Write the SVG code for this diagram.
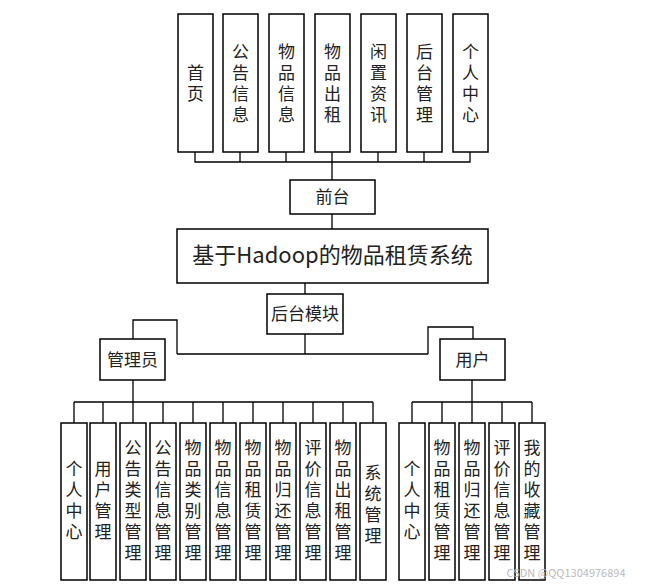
<svg xmlns="http://www.w3.org/2000/svg" width="650" height="586" viewBox="0 0 650 586">
<style>
rect{fill:#fff;stroke:#000;stroke-width:1.5}
text{font-family:"Noto Sans CJK SC","Liberation Sans",sans-serif;font-size:17px;fill:#222;text-anchor:middle}
.v{writing-mode:vertical-rl;letter-spacing:4px}
.c path{fill:none;stroke:#000;stroke-width:1.3}
.t{font-size:22px}
.w{font-size:11px;fill:#bbb}
</style>
<rect x="0" y="0" width="650" height="586" style="stroke:none"/>
<g class="c">
<path d="M195 152V162H470V152M240 152V162M286 152V162M332 152V180M378 152V162M424 152V162"/>
<path d="M332 214V229M305 283V294M305 334V354M177 354H428M177 354V320H133V339M428 354V327H473V339"/>
<path d="M133 380V402M74 402H373M74 402V423M103 402V423M133 402V423M163 402V423M193 402V423M223 402V423M253 402V423M283 402V423M313 402V423M343 402V423M373 402V423"/>
<path d="M472 380V402M412 402H532M412 402V423M442 402V423M472 402V423M502 402V423M532 402V423"/>
</g>
<g id="top">
<g id="n-shouye"><rect x="178" y="14" width="35" height="138"/><text class="v" x="195.5" y="85">首页</text></g>
<g id="n-gonggao"><rect x="223" y="14" width="35" height="138"/><text class="v" x="240.5" y="85">公告信息</text></g>
<g id="n-wpxx"><rect x="269" y="14" width="35" height="138"/><text class="v" x="286.5" y="85">物品信息</text></g>
<g id="n-wpcz"><rect x="315" y="14" width="35" height="138"/><text class="v" x="332.5" y="85">物品出租</text></g>
<g id="n-xzzx"><rect x="361" y="14" width="35" height="138"/><text class="v" x="378.5" y="85">闲置资讯</text></g>
<g id="n-htgl"><rect x="407" y="14" width="35" height="138"/><text class="v" x="424.5" y="85">后台管理</text></g>
<g id="n-grzx"><rect x="453" y="14" width="35" height="138"/><text class="v" x="470.5" y="85">个人中心</text></g>
</g>
<g id="n-qiantai"><rect x="290" y="180" width="85" height="34"/><text x="332.5" y="203">前台</text></g>
<g id="n-main"><rect x="177" y="229" width="311" height="54"/><text class="t" x="332.5" y="263">基于Hadoop的物品租赁系统</text></g>
<g id="n-houtai"><rect x="267" y="294" width="76" height="40"/><text x="305" y="320">后台模块</text></g>
<g id="n-admin"><rect x="100" y="339" width="65" height="41"/><text x="132.5" y="366">管理员</text></g>
<g id="n-user"><rect x="440" y="339" width="65" height="41"/><text x="472.5" y="366">用户</text></g>
<g id="admin-children">
<g id="a1"><rect x="61" y="423" width="26" height="157"/><text class="v" x="74" y="502">个人中心</text></g>
<g id="a2"><rect x="90" y="423" width="26" height="157"/><text class="v" x="103" y="502">用户管理</text></g>
<g id="a3"><rect x="120" y="423" width="26" height="157"/><text class="v" x="133" y="502">公告类型管理</text></g>
<g id="a4"><rect x="150" y="423" width="26" height="157"/><text class="v" x="163" y="502">公告信息管理</text></g>
<g id="a5"><rect x="180" y="423" width="26" height="157"/><text class="v" x="193" y="502">物品类别管理</text></g>
<g id="a6"><rect x="210" y="423" width="26" height="157"/><text class="v" x="223" y="502">物品信息管理</text></g>
<g id="a7"><rect x="240" y="423" width="26" height="157"/><text class="v" x="253" y="502">物品租赁管理</text></g>
<g id="a8"><rect x="270" y="423" width="26" height="157"/><text class="v" x="283" y="502">物品归还管理</text></g>
<g id="a9"><rect x="300" y="423" width="26" height="157"/><text class="v" x="313" y="502">评价信息管理</text></g>
<g id="a10"><rect x="330" y="423" width="26" height="157"/><text class="v" x="343" y="502">物品出租管理</text></g>
<g id="a11"><rect x="360" y="423" width="26" height="157"/><text class="v" x="373" y="506">系统管理</text></g>
</g>
<g id="user-children">
<g id="u1"><rect x="399" y="423" width="26" height="157"/><text class="v" x="412" y="502">个人中心</text></g>
<g id="u2"><rect x="429" y="423" width="26" height="157"/><text class="v" x="442" y="502">物品租赁管理</text></g>
<g id="u3"><rect x="459" y="423" width="26" height="157"/><text class="v" x="472" y="502">物品归还管理</text></g>
<g id="u4"><rect x="489" y="423" width="26" height="157"/><text class="v" x="502" y="502">评价信息管理</text></g>
<g id="u5"><rect x="519" y="423" width="26" height="157"/><text class="v" x="532" y="502">我的收藏管理</text></g>
</g>
<text class="w" x="566" y="577">CSDN @QQ1304976894</text>
</svg>
